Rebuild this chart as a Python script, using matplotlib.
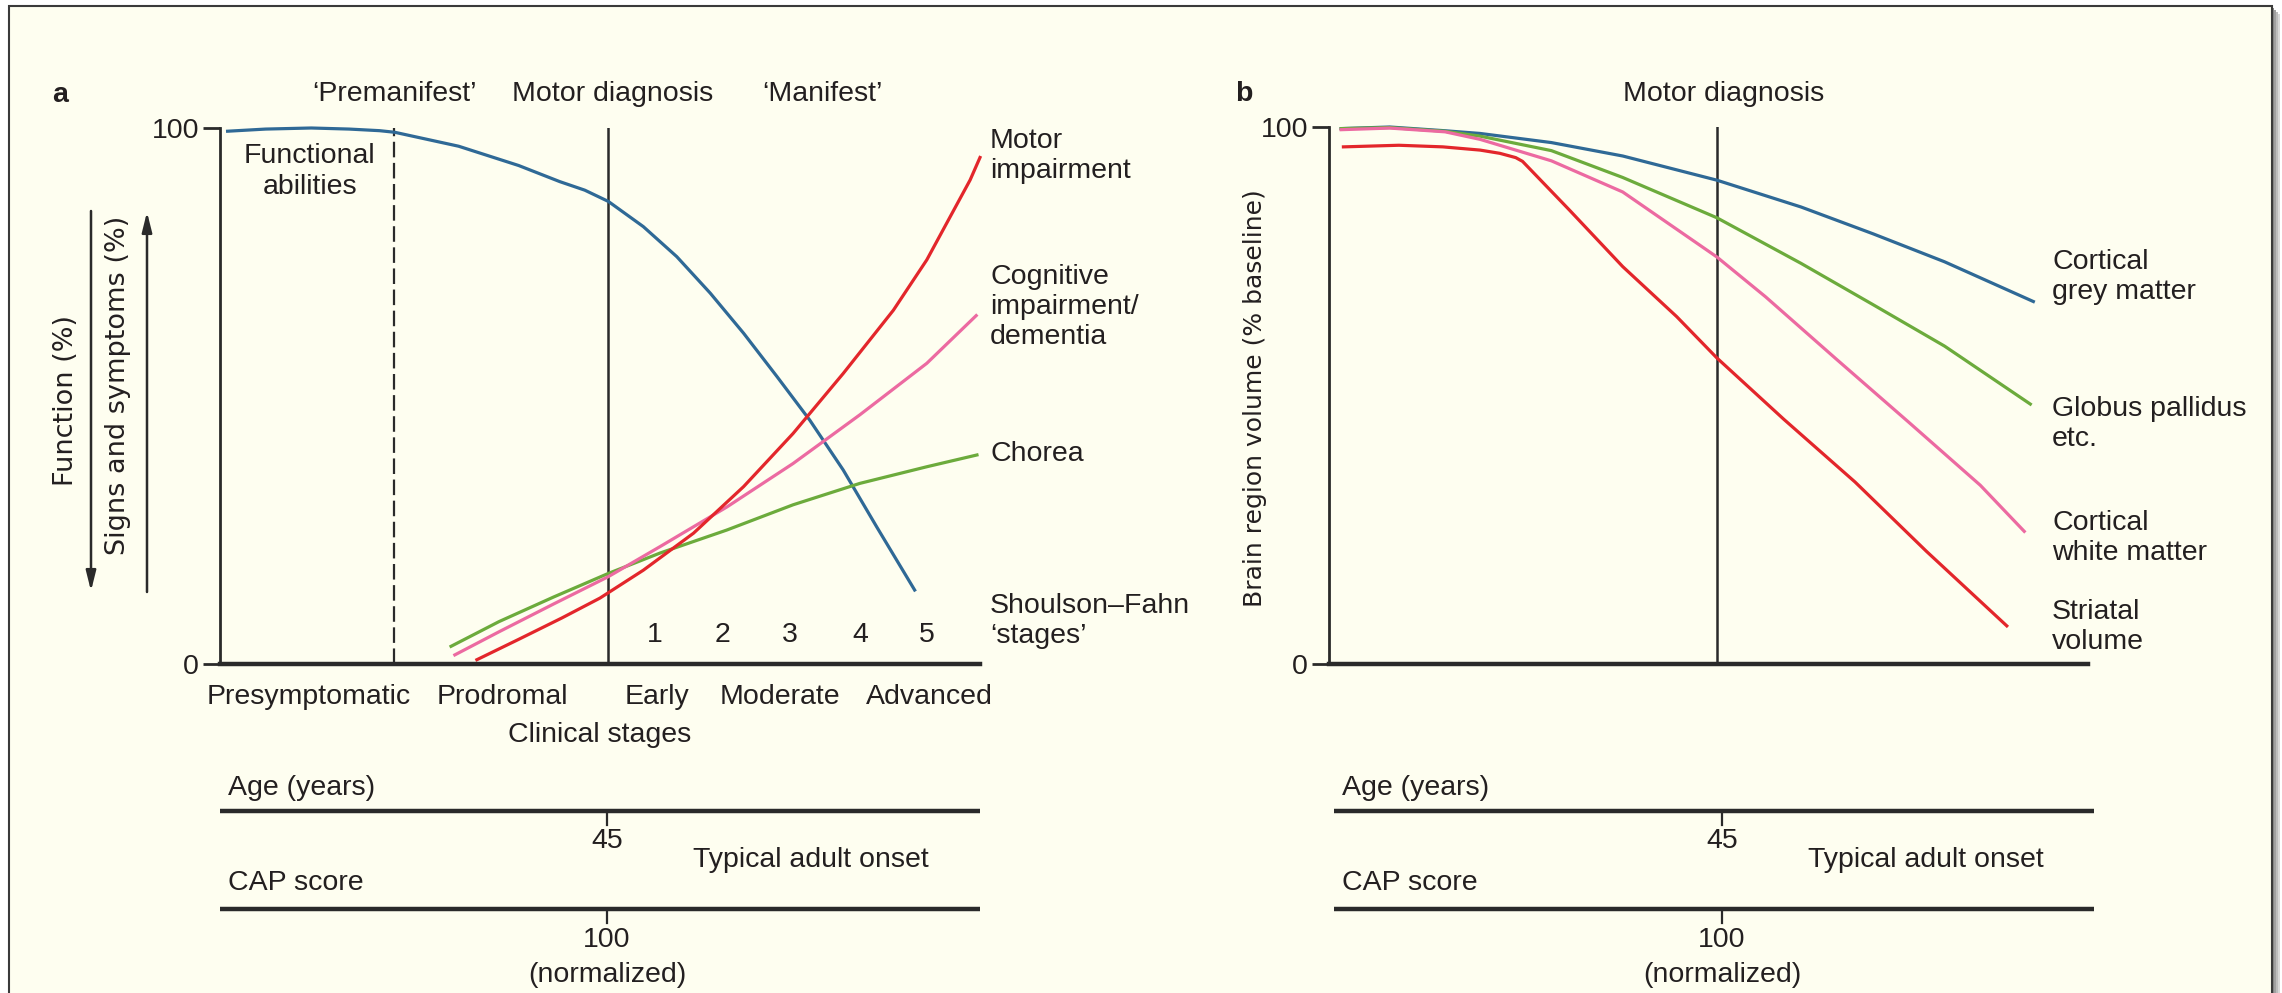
import matplotlib
matplotlib.use("Agg")
import matplotlib.pyplot as plt
from matplotlib.patches import Rectangle

plt.rcParams['font.family'] = ['Liberation Sans', 'DejaVu Sans']

W, H = 2282, 993
TXT = '#231f20'
C_BLUE = '#2f6996'
C_RED = '#e3262b'
C_PINK = '#ec6aa1'
C_GREEN = '#6cab3c'
FS = 20.5

# ---------------- data: panel a ----------------
func_x = [1, 6, 12, 17, 21, 23, 31.4, 39.3, 44.7, 48, 51.1, 55.7, 60.1, 64.5, 68.9, 73.3, 77.6, 82.0, 86.4, 91.4]
func_y = [99.4, 99.8, 100, 99.8, 99.5, 99.2, 96.6, 93.0, 90.0, 88.4, 86.3, 81.6, 76.0, 69.2, 61.7, 53.6, 45.5, 36.2, 25.6, 13.8]
motor_x = [33.8, 39.3, 45, 50.0, 55.7, 62.3, 68.9, 75.4, 82.0, 88.6, 93.0, 98.7, 100]
motor_y = [0.8, 4.6, 8.6, 12.3, 17.5, 24.4, 33.1, 43.0, 54.2, 66.0, 75.4, 90.3, 94.5]
cog_x = [30.9, 36.7, 43.9, 51.1, 57.9, 66.7, 75.4, 84.2, 93.0, 99.5]
cog_y = [1.7, 6.0, 11.2, 16.3, 21.9, 29.3, 37.4, 46.5, 56.1, 65.0]
chorea_x = [30.4, 36.7, 43.9, 51.1, 57.9, 66.7, 75.4, 84.2, 93.0, 99.6]
chorea_y = [3.3, 7.9, 12.5, 16.9, 20.7, 25.0, 29.7, 33.7, 36.8, 39.0]
premanifest_x = 22.9
motor_dx = 51.0
stage_nums = ['1', '2', '3', '4', '5']
stage_num_x = [57.2, 66.1, 75.0, 84.2, 93.0]
clinical_labels = ['Presymptomatic', 'Prodromal', 'Early', 'Moderate', 'Advanced']
clinical_x = [11.7, 37.1, 57.5, 73.7, 93.4]

# ---------------- data: panel b ----------------
grey_x = [1.6, 8, 15.3, 19.9, 29.3, 38.7, 51.1, 62.2, 71.7, 81.1, 92.8]
grey_y = [99.7, 100, 99.3, 98.8, 97.1, 94.6, 90.1, 85.1, 80.1, 74.9, 67.5]
glob_x = [1.6, 8, 15.3, 19.9, 29.3, 38.7, 51.1, 62.2, 71.7, 81.1, 92.4]
glob_y = [99.7, 99.9, 99.2, 98.3, 95.6, 90.6, 83.1, 74.6, 66.9, 59.2, 48.4]
white_x = [1.6, 8, 15.3, 19.9, 29.3, 38.7, 51.1, 57.5, 66.9, 76.4, 85.8, 91.6]
white_y = [99.5, 99.8, 99.1, 97.7, 93.7, 87.9, 75.8, 68.4, 56.7, 45.0, 33.3, 24.7]
stri_x = [1.9, 9.2, 15, 19.9, 22.5, 24.6, 25.5, 31.7, 38.7, 45.8, 51.1, 59.9, 69.3, 78.7, 89.3]
stri_y = [96.3, 96.6, 96.3, 95.7, 95.1, 94.3, 93.6, 84.5, 74.0, 64.7, 57.0, 45.6, 33.9, 21.0, 7.1]
motor_bx = 51.1

fig = plt.figure(figsize=(W / 100, H / 100), dpi=100)
fig.patch.set_facecolor('white')

# overlay in pixel coordinates (background, frame, free text)
ov = fig.add_axes([0, 0, 1, 1], zorder=-1)
ov.set_xlim(0, W)
ov.set_ylim(H, 0)
ov.axis('off')
for i, c in enumerate(['#d8d8d8', '#bdbdbd', '#a0a0a0', '#888888']):
    off = 8 - 2 * i
    ov.add_patch(Rectangle((9 + off, 6 + off), 2263, 1100, facecolor=c, edgecolor='none', zorder=0))
ov.add_patch(Rectangle((9, 6), 2263, 1100, facecolor='#fefef0', edgecolor='#3a3a3a', lw=1.5, zorder=1))


def px_axes(l, r, b, t):
    return fig.add_axes([l / W, 1 - b / H, (r - l) / W, (b - t) / H])


def style_axes(ax):
    ax.set_xlim(0, 100)
    ax.set_ylim(0, 100)
    ax.set_facecolor('none')
    for s in ['top', 'right']:
        ax.spines[s].set_visible(False)
    ax.spines['left'].set_linewidth(2)
    ax.spines['bottom'].set_linewidth(3.2)
    ax.spines['left'].set_color('#2a2a2a')
    ax.spines['bottom'].set_color('#2a2a2a')
    ax.set_xticks([])
    ax.set_yticks([0, 100])
    ax.set_yticklabels(['0', '100'])
    ax.tick_params(axis='y', direction='out', length=12, width=2, pad=3,
                   labelsize=FS, colors='#2a2a2a', labelcolor=TXT)


lw = 2.3

# ---------------- panel a ----------------
ax = px_axes(220, 980, 664, 128)
style_axes(ax)
ax.axvline(premanifest_x, color='#2a2a2a', lw=1.6, ls=(0, (7, 2.5)))
ax.axvline(motor_dx, color='#2a2a2a', lw=1.8)
ax.plot(func_x, func_y, color=C_BLUE, lw=lw, clip_on=False, solid_joinstyle='round')
ax.plot(chorea_x, chorea_y, color=C_GREEN, lw=lw, clip_on=False, solid_joinstyle='round')
ax.plot(cog_x, cog_y, color=C_PINK, lw=lw, clip_on=False, solid_joinstyle='round')
ax.plot(motor_x, motor_y, color=C_RED, lw=lw, clip_on=False, solid_joinstyle='round')
for s, x in zip(stage_nums, stage_num_x):
    ax.text(x, 5.4, s, ha='center', va='center', fontsize=FS, color=TXT)
for s, x in zip(clinical_labels, clinical_x):
    ax.text(x, -6.2, s, ha='center', va='center', fontsize=FS, color=TXT, clip_on=False)
ax.text(50.0, -13.2, 'Clinical stages', ha='center', va='center', fontsize=FS, color=TXT)
ax.text(11.8, 91.8, 'Functional\nabilities', ha='center', va='center', fontsize=FS,
        color=TXT, linespacing=1.25)

# ---------------- panel b ----------------
bx = px_axes(1329, 2088, 664, 127)
style_axes(bx)
bx.axvline(motor_bx, color='#2a2a2a', lw=1.8)
bx.plot(grey_x, grey_y, color=C_BLUE, lw=lw, clip_on=False, solid_joinstyle='round')
bx.plot(glob_x, glob_y, color=C_GREEN, lw=lw, clip_on=False, solid_joinstyle='round')
bx.plot(white_x, white_y, color=C_PINK, lw=lw, clip_on=False, solid_joinstyle='round')
bx.plot(stri_x, stri_y, color=C_RED, lw=lw, clip_on=False, solid_joinstyle='round')


# ---------------- free text (pixel coords) ----------------
def t(x, y, s, ha='center', **kw):
    kw.setdefault('fontsize', FS)
    kw.setdefault('color', TXT)
    ov.text(x, y, s, ha=ha, va='center', **kw)


t(60, 95, 'a', fontweight='bold')
t(394, 94, '\u2018Premanifest\u2019')
t(613, 94, 'Motor diagnosis')
t(822, 94, '\u2018Manifest\u2019')
t(990, 156, 'Motor\nimpairment', ha='left', linespacing=1.18)
t(990, 307, 'Cognitive\nimpairment/\ndementia', ha='left', linespacing=1.18)
t(990, 454, 'Chorea', ha='left')
t(990, 621, 'Shoulson\u2013Fahn\n\u2018stages\u2019', ha='left', linespacing=1.18)

t(66, 400, 'Function (%)', rotation=90, family='DejaVu Sans', fontsize=19.5)
t(118, 385, 'Signs and symptoms (%)', rotation=90, family='DejaVu Sans', fontsize=19.5)
ov.annotate('', xy=(91, 591), xytext=(91, 211),
            arrowprops=dict(arrowstyle='-|>,head_length=1.2,head_width=0.3', color='#2a2a2a', lw=1.8,
                            shrinkA=0, shrinkB=0))
ov.annotate('', xy=(147, 212), xytext=(147, 592),
            arrowprops=dict(arrowstyle='-|>,head_length=1.2,head_width=0.3', color='#2a2a2a', lw=1.8,
                            shrinkA=0, shrinkB=0))

t(1244, 94, 'b', fontweight='bold')
t(1724, 94, 'Motor diagnosis')
t(2052, 277, 'Cortical\ngrey matter', ha='left', linespacing=1.16)
t(2052, 424, 'Globus pallidus\netc.', ha='left', linespacing=1.16)
t(2052, 538, 'Cortical\nwhite matter', ha='left', linespacing=1.16)
t(2052, 627, 'Striatal\nvolume', ha='left', linespacing=1.16)
t(1255, 398, 'Brain region volume (% baseline)', rotation=90, family='DejaVu Sans', fontsize=18)

# bottom scales
for (l, r, xm) in [(220, 980, 607), (1334, 2094, 1722)]:
    for yl in (811, 909):
        ov.plot([l, r], [yl, yl], color='#2a2a2a', lw=3.2, solid_capstyle='butt')
        ov.plot([xm, xm], [yl, yl + 14], color='#2a2a2a', lw=1.6)
    t(l + 8, 788, 'Age (years)', ha='left')
    t(xm, 841, '45')
    t(xm + 204, 860, 'Typical adult onset')
    t(l + 8, 883, 'CAP score', ha='left')
    t(xm, 940, '100')
    t(xm, 975, '(normalized)')

fig.savefig('out.png', dpi=100, facecolor='white')
